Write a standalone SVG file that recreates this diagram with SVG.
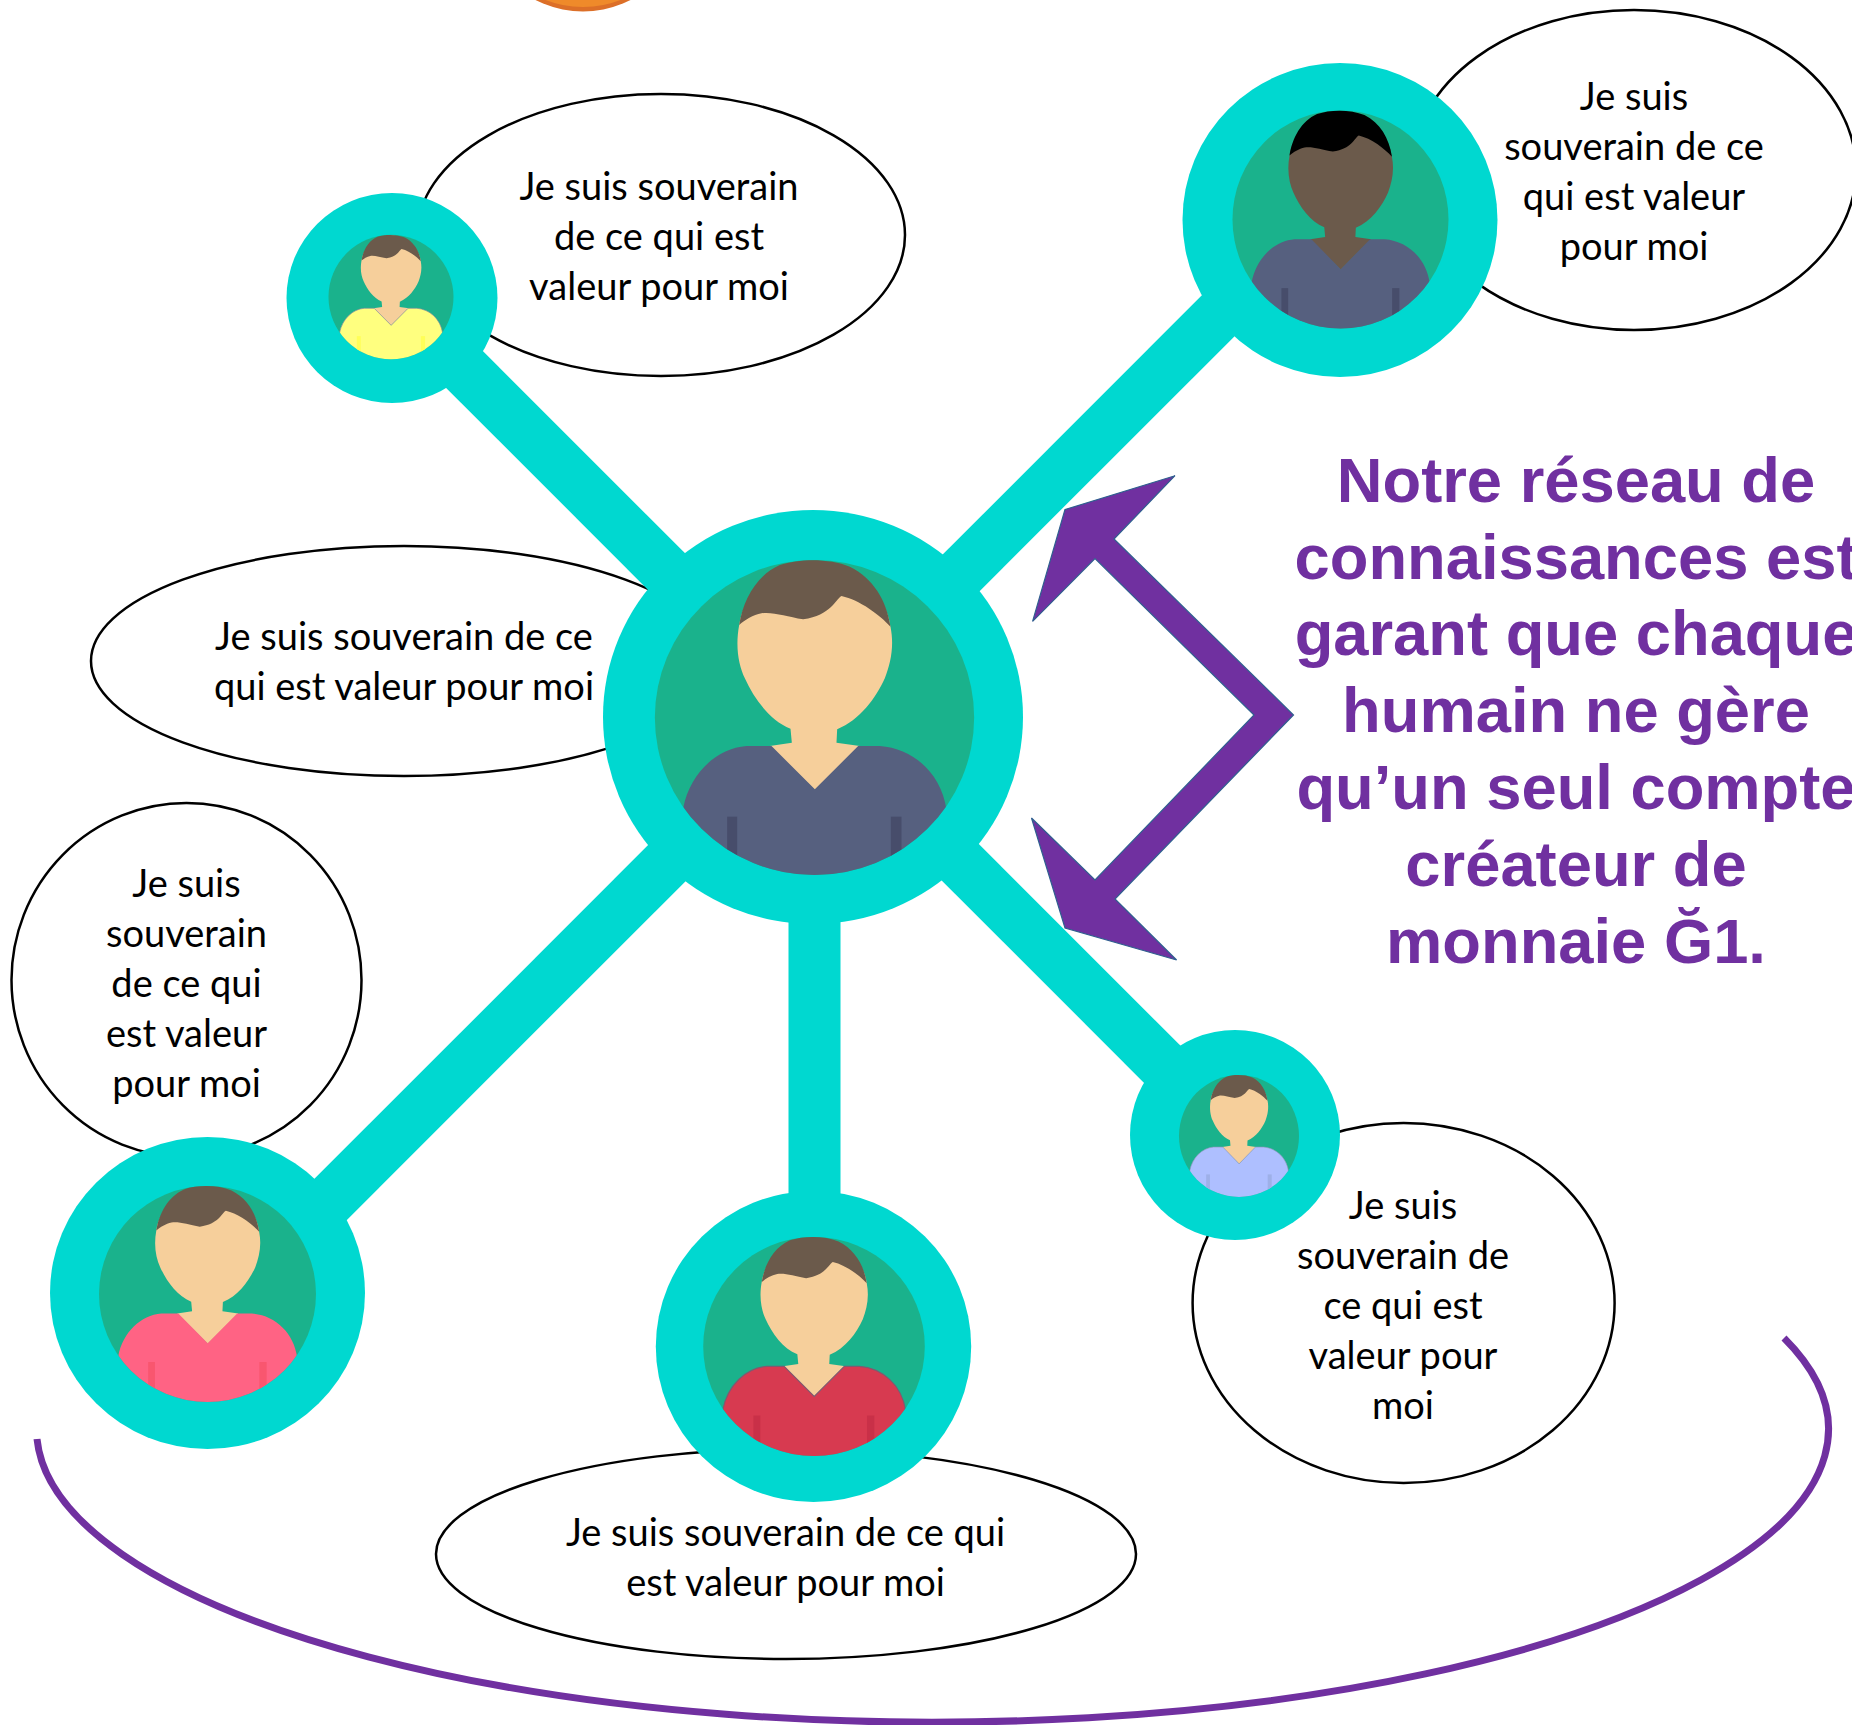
<svg xmlns="http://www.w3.org/2000/svg" width="1852" height="1725" viewBox="0 0 1852 1725">
<style>
.ring{fill:#00d8d0}
.bubble{fill:#fff;stroke:#000;stroke-width:2.5}
.t{font-family:"Lato","Liberation Sans",sans-serif;font-size:38px;fill:#000;text-anchor:middle}
.title{font-family:"Liberation Sans",Arial,sans-serif;font-weight:bold;font-size:63.300px;fill:#7030a0;text-anchor:middle}
.conn{stroke:#00d8d0;stroke-width:52;fill:none}
.green{fill:#1ab28c}
.skin{fill:var(--skin,#f6cf9b)}
.hair{fill:var(--hair,#6b5a4b)}
.shirt{fill:var(--shirt,#56607f);stroke:var(--edge,none);stroke-width:5}
.stripe{fill:var(--stripe,#474d6b)}
</style>
<defs>
<clipPath id="disc"><ellipse cx="704" cy="652.5" rx="479" ry="472.5"/></clipPath>
<g id="person">
<ellipse class="green" cx="704" cy="652.5" rx="479" ry="472.5"/>
<path class="skin" d="M478,375 C466,440 476,495 495,535 C522,595 570,662 632,686 L636,728 L570,738 L705,870 L840,738 L770,728 L772,688 C840,660 888,595 915,535 C932,490 944,440 932,380 C920,280 820,185 700,185 C590,185 490,280 478,375 Z"/>
<path class="hair" d="M478,375 C490,300 530,225 600,195 C660,175 750,175 810,200 C880,235 920,300 932,380 C900,345 840,300 785,288 C765,300 755,345 670,358 C620,350 580,335 545,340 C520,345 495,360 478,375 Z"/>
<g clip-path="url(#disc)">
<path class="shirt" d="M575,738 L705,868 L835,738 L900,738 C1000,745 1085,820 1100,930 L1100,1200 L310,1200 L310,925 C330,820 410,745 500,738 Z"/>
<rect class="stripe" x="442" y="950" width="30" height="130"/>
<rect class="stripe" x="933" y="950" width="32" height="130"/>
</g>
</g>
</defs>
<rect width="1852" height="1725" fill="#fff"/>
<g id="coin">
<circle cx="583" cy="-92.5" r="104" fill="#dc6f28"/>
<circle cx="583" cy="-97" r="104" fill="#ef8a2a"/>
</g>
<path id="arc" d="M37 1439 A896 293 0 1 0 1784 1338" fill="none" stroke="#7030a0" stroke-width="7"/>
<g id="node-top-left">
<ellipse class="bubble" cx="661" cy="235" rx="244" ry="141"/>
<text class="t" x="659" y="200">Je suis souverain</text>
<text class="t" x="659" y="250">de ce qui est</text>
<text class="t" x="659" y="300">valeur pour moi</text>
<ellipse class="ring" cx="392" cy="298" rx="105.5" ry="105"/>
<use href="#person" transform="translate(391 297) scale(.1305 .1315) translate(-704 -652.5)" style="--shirt:#ffff7f;--stripe:#ffff58;--edge:#7f86a0"/>
</g>
<g id="node-top-right">
<ellipse class="bubble" cx="1634" cy="170" rx="222" ry="160"/>
<text class="t" x="1634" y="110">Je suis</text>
<text class="t" x="1634" y="160">souverain de ce</text>
<text class="t" x="1634" y="210">qui est valeur</text>
<text class="t" x="1634" y="260">pour moi</text>
<ellipse class="ring" cx="1340" cy="220" rx="157.5" ry="157"/>
<use href="#person" transform="translate(1340.5 219.5) scale(.2255 .2307) translate(-704 -652.5)" style="--skin:#6b5a4b;--hair:#000"/>
</g>
<g id="node-center">
<ellipse class="bubble" cx="404" cy="661" rx="313" ry="115"/>
<text class="t" x="404" y="650">Je suis souverain de ce</text>
<text class="t" x="404" y="700">qui est valeur pour moi</text>
<ellipse class="ring" cx="813" cy="717" rx="210" ry="207"/>
<use href="#person" transform="translate(814.5 717.5) scale(.3333)  translate(-704 -652.5)"/>
</g>
<g id="node-bottom-left">
<ellipse class="bubble" cx="186.500" cy="980" rx="175" ry="177"/>
<text class="t" x="186.500" y="897">Je suis</text>
<text class="t" x="186.500" y="947">souverain</text>
<text class="t" x="186.500" y="997">de ce qui</text>
<text class="t" x="186.500" y="1047">est valeur</text>
<text class="t" x="186.500" y="1097">pour moi</text>
<ellipse class="ring" cx="207.500" cy="1293" rx="157.500" ry="156"/>
<use href="#person" transform="translate(207.500 1294) scale(.2265 .2286) translate(-704 -652.5)" style="--shirt:#ff6384;--stripe:#f9566f"/>
</g>
<g id="node-bottom">
<ellipse class="bubble" cx="786" cy="1554" rx="350" ry="105"/>
<text class="t" x="785.500" y="1546">Je suis souverain de ce qui</text>
<text class="t" x="785.500" y="1596">est valeur pour moi</text>
<ellipse class="ring" cx="813.500" cy="1346.500" rx="157.700" ry="155.500"/>
<use href="#person" transform="translate(814 1346.500) scale(.2313 .232) translate(-704 -652.5)" style="--shirt:#d73a50;--stripe:#c93048;--edge:#7f5a70"/>
</g>
<g id="node-bottom-right">
<ellipse class="bubble" cx="1403.600" cy="1303" rx="211" ry="180"/>
<text class="t" x="1403" y="1219">Je suis</text>
<text class="t" x="1403" y="1269">souverain de</text>
<text class="t" x="1403" y="1319">ce qui est</text>
<text class="t" x="1403" y="1369">valeur pour</text>
<text class="t" x="1403" y="1419">moi</text>
<ellipse class="ring" cx="1235" cy="1135" rx="105" ry="105"/>
<use href="#person" transform="translate(1239 1136) scale(.1253 .1291) translate(-704 -652.5)" style="--shirt:#aebfff;--stripe:#9eb0e8;--edge:#8f96b8"/>
</g>
<g id="connectors">
<line class="conn" x1="686" y1="591" x2="452.500" y2="357.500"/>
<line class="conn" x1="940" y1="594" x2="1235" y2="299"/>
<line class="conn" x1="686" y1="844" x2="314.500" y2="1215.500"/>
<line class="conn" x1="814.500" y1="900" x2="814.500" y2="1215"/>
<line class="conn" x1="940" y1="842" x2="1175" y2="1077"/>
</g>
<path id="bent-arrow" d="M1065 509.600 L1175 475.700 L1114 539 L1293.500 715 L1115 899 L1176.600 960 L1065 928 L1031.500 818 L1095 880 L1254 715 L1095 558.600 L1032.600 621.400 Z" fill="#7030a0" stroke="#2f5f8f" stroke-width="1.200"/>
<g id="title">
<text class="title" x="1576" y="502">Notre réseau de</text>
<text class="title" x="1576" y="578.600">connaissances est</text>
<text class="title" x="1576" y="655">garant que chaque</text>
<text class="title" x="1576" y="732">humain ne gère</text>
<text class="title" x="1576" y="809">qu’un seul compte</text>
<text class="title" x="1576" y="886">créateur de</text>
<text class="title" x="1576" y="962.500">monnaie Ğ1.</text>
</g>
</svg>
